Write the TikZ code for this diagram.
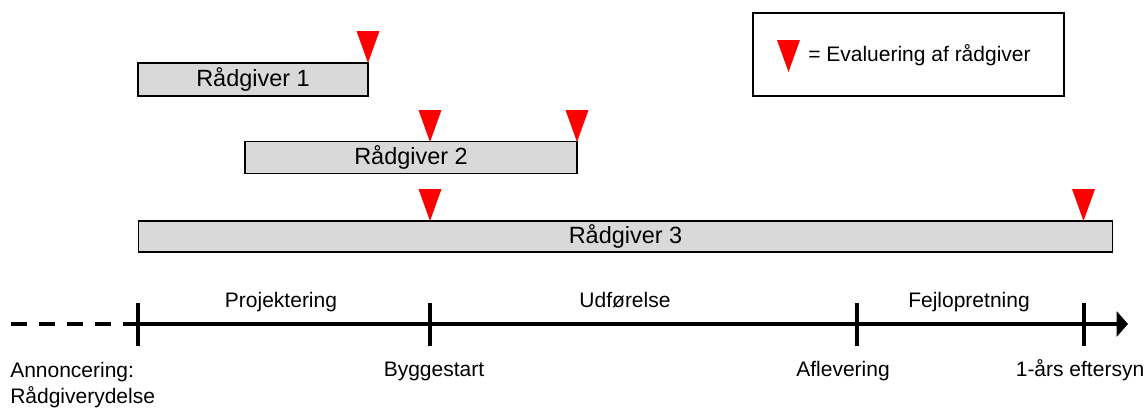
\documentclass[tikz,border=0pt]{standalone}
\usepackage{fontspec}
\setmainfont{Liberation Sans}
\usetikzlibrary{arrows.meta,calc}
\definecolor{boxgray}{HTML}{D9D9D9}
\begin{document}
\begin{tikzpicture}[x=0.75pt,y=-0.75pt,
  bar/.style={draw=black, line width=1.3pt, fill=boxgray, inner sep=0pt, outer sep=0pt,
    font=\fontsize{17.6}{20}\selectfont},
  legendbox/.style={draw=black, line width=1.1pt, inner sep=0pt, outer sep=0pt},
  lbl/.style={font=\fontsize{15.75}{19}\selectfont, inner sep=0pt, anchor=base},
  axisline/.style={line width=2.4pt},
  tickline/.style={line width=3pt},
  evalmark/.pic={\fill[red] (-11.5,-32) -- (11.5,-32) -- (0,0) -- cycle;}]
\useasboundingbox (0,0) rectangle (1148,407);

% boxes
\node[bar, minimum width=172.5pt, minimum height=24.75pt] (r1) at (253,79.5) {Rådgiver 1};
\node[bar, minimum width=249pt, minimum height=24pt] (r2) at (411,157.5) {Rådgiver 2};
\node[bar, minimum width=730.5pt, minimum height=23.25pt] (r3) at (625.5,236.5) {Rådgiver 3};

% evaluation marks
\coordinate (e1) at (368,63);
\coordinate (e2) at (430,142);
\coordinate (e3) at (577,142);
\coordinate (e4) at (430,221);
\coordinate (e5) at (1083.5,221);
\foreach \e in {e1,e2,e3,e4,e5} {\pic at (\e) {evalmark};}

% legend
\node[legendbox, minimum width=233.25pt, minimum height=62.25pt] (legend) at (908.5,54.5) {};
\coordinate (lm) at (788.5,72);
\pic at (lm) {evalmark};
\node[lbl, anchor=base west] (legtext) at (808,61) {= Evaluering af rådgiver};

% time axis
\coordinate (a0) at (11,324);
\coordinate (t0) at (138,324);
\coordinate (t1) at (430,324);
\coordinate (t2) at (857,324);
\coordinate (t3) at (1083.5,324);
\coordinate (aend) at (1128,324);
\draw[axisline, dash pattern=on 12pt off 9pt] (a0) -- (t0);
\draw[axisline, -{Triangle[length=8.5pt,width=18.75pt]}] (t0) -- (aend);
\foreach \t in {t0,t1,t2,t3} {\draw[tickline] ($(\t)+(0,-21)$) -- ($(\t)+(0,22)$);}

% phase labels
\node[lbl] (p1) at (281,307) {Projektering};
\node[lbl] (p2) at (625,307) {Udførelse};
\node[lbl] (p3) at (969,307) {Fejlopretning};

% milestone labels
\node[lbl, anchor=base west] (m0a) at (10,377) {Annoncering:};
\node[lbl, anchor=base west] (m0b) at (10,403) {Rådgiverydelse};
\node[lbl] (m1) at (434,376) {Byggestart};
\node[lbl] (m2) at (843,376) {Aflevering};
\node[lbl] (m3) at (1080,376) {1-års eftersyn};
\end{tikzpicture}
\end{document}
